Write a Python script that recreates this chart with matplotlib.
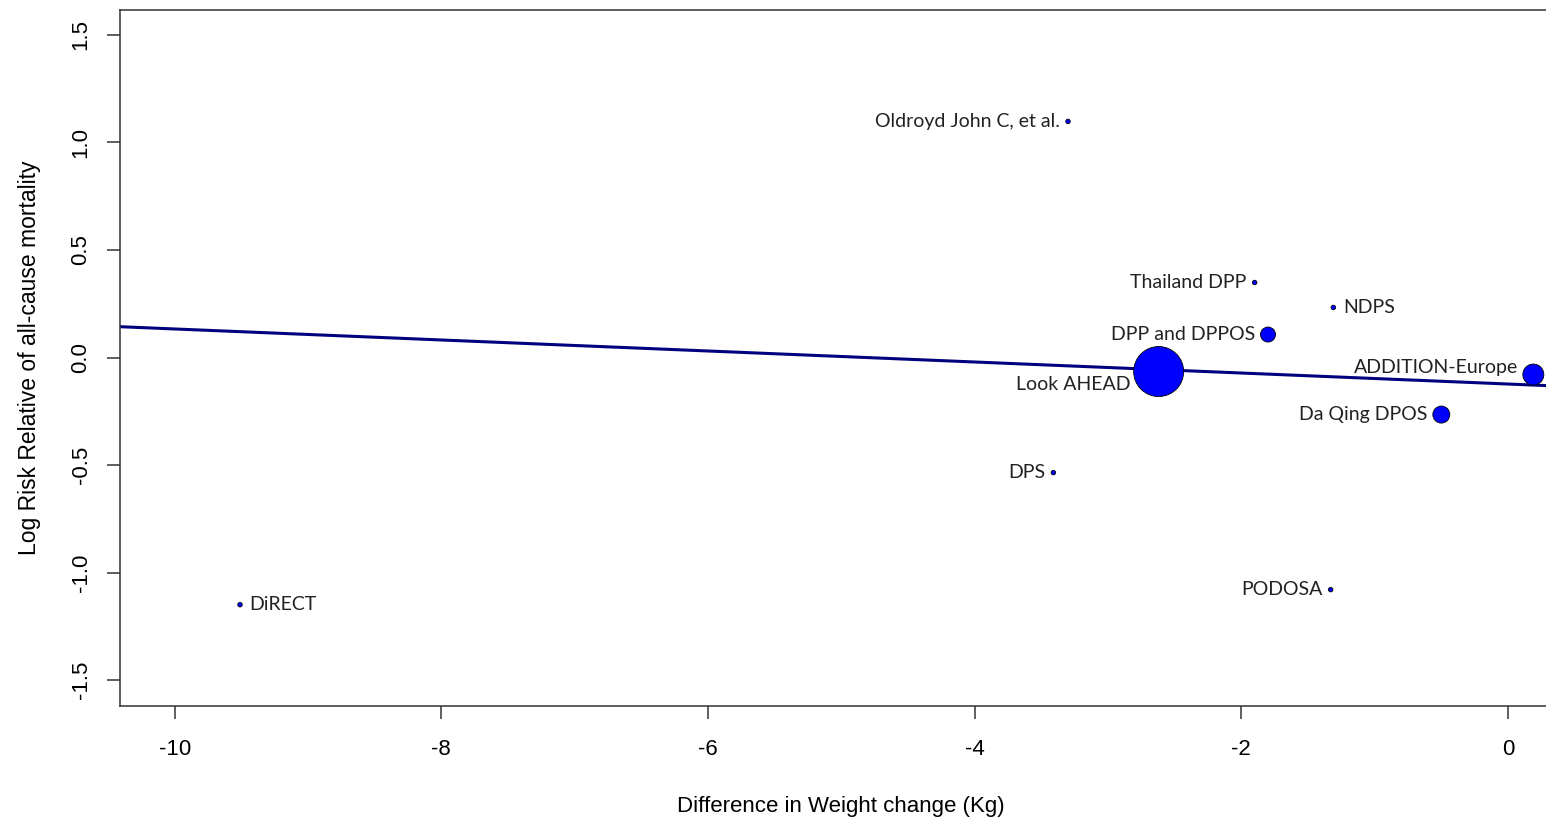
import matplotlib
matplotlib.use("Agg")
import matplotlib.pyplot as plt
import numpy as np

# study data
studies = ["Oldroyd John C, et al.", "Thailand DPP", "NDPS", "DPP and DPPOS",
           "Look AHEAD", "ADDITION-Europe", "Da Qing DPOS", "DPS", "PODOSA", "DiRECT"]
weight_diff = [-3.30, -1.90, -1.31, -1.80, -2.62, 0.19, -0.50, -3.41, -1.33, -9.51]
log_rr = [1.098, 0.349, 0.233, 0.107, -0.065, -0.079, -0.265, -0.535, -1.079, -1.149]
# relative study weight (bubble diameter)
study_weight = [4.5, 4.5, 4.5, 15, 50, 21, 17, 4.5, 4.5, 4.5]

# meta-regression line
reg_intercept = -0.123
reg_slope = -0.0256

x_ticks = [-10, -8, -6, -4, -2, 0]
y_ticks = [-1.5, -1.0, -0.5, 0.0, 0.5, 1.0, 1.5]

# label placement (offset in points, alignment)
label_pos = {
    "Oldroyd John C, et al.": (-6, 0, "right"),
    "Thailand DPP": (-6, 0, "right"),
    "NDPS": (7, 0, "left"),
    "DPP and DPPOS": (-9, 0, "right"),
    "Look AHEAD": (-20, -9, "right"),
    "ADDITION-Europe": (-11, 5, "right"),
    "Da Qing DPOS": (-10, 0, "right"),
    "DPS": (-6, 0, "right"),
    "PODOSA": (-6, 0, "right"),
    "DiRECT": (7, 0, "left"),
}

fig = plt.figure(figsize=(15.46, 8.17), dpi=100)
# plot region runs a little past the right edge of the image (border cropped off)
ax = fig.add_axes([120/1546, 111/817, 1442/1546, 696/817])

xlim = (-10.41, 0.405)
ax.set_xlim(*xlim)
ax.set_ylim(-1.62, 1.616)

xs = np.array(xlim)
ax.plot(xs, reg_intercept + reg_slope*xs, color="#00007f", lw=2.2, zorder=2)

sizes = [(0.72*w)**2 for w in study_weight]
ax.scatter(weight_diff, log_rr, s=sizes, color="#0000ff", edgecolors="black",
           linewidths=0.6, zorder=3, clip_on=False)

for name, x, y in zip(studies, weight_diff, log_rr):
    dx, dy, ha = label_pos[name]
    ax.annotate(name, (x, y), xytext=(dx, dy), textcoords="offset points",
                ha=ha, va="center", fontsize=14, family="Lato", color="#222222")

ax.set_xticks(x_ticks)
ax.set_xticklabels([str(t) for t in x_ticks], family="Liberation Sans", fontsize=16)
ax.set_yticks(y_ticks)
ax.set_yticklabels(["%.1f" % t for t in y_ticks], family="Liberation Sans",
                   fontsize=16, rotation=90, va="center")
ax.tick_params(direction="out", length=9.5, width=1.1, color="#333333")
ax.tick_params(axis="x", pad=14)
ax.tick_params(axis="y", pad=11)

for sp in ["left", "top", "bottom", "right"]:
    ax.spines[sp].set_linewidth(1.1)
    ax.spines[sp].set_color("#333333")

ax.set_xlabel("Difference in Weight change (Kg)", family="Liberation Sans",
              fontsize=16, labelpad=26)
ax.set_ylabel("Log Risk Relative of all-cause mortality", family="Liberation Sans",
              fontsize=16.5, labelpad=21)

fig.savefig("out.png", dpi=100)
